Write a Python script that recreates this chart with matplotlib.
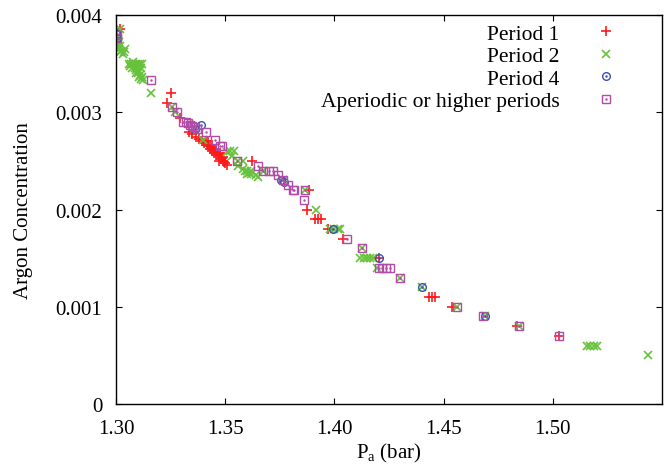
import matplotlib
matplotlib.use('Agg')
import matplotlib.pyplot as plt

plt.rcParams['font.family'] = ['Liberation Serif', 'DejaVu Serif']
plt.rcParams['mathtext.fontset'] = 'custom'
plt.rcParams['mathtext.rm'] = 'Liberation Serif'
plt.rcParams['mathtext.it'] = 'Liberation Serif:italic'

# Period 1 points (red +)
p1_x = [1.3017, 1.3250, 1.3232, 1.3293,
        1.3335, 1.3350, 1.3365, 1.3380, 1.3395, 1.3405, 1.3415, 1.3425, 1.3430, 1.3440,
        1.3450, 1.3460, 1.3470, 1.3480, 1.3490, 1.3500, 1.3507, 1.3440, 1.3460, 1.3475,
        1.3490, 1.3420, 1.3470, 1.3445, 1.3455, 1.3465, 1.3485, 1.3495, 1.3410, 1.3435,
        1.3621, 1.3884, 1.3873, 1.3912, 1.3926, 1.3940, 1.3972, 1.4039, 1.4204,
        1.4432, 1.4446, 1.4460, 1.4540, 1.4835, 1.5030]
p1_y = [0.00386, 0.0032, 0.0031, 0.00294,
        0.0028, 0.00278, 0.00275, 0.00272, 0.0027, 0.00268, 0.00266, 0.00265, 0.00262, 0.0026,
        0.00258, 0.00256, 0.00255, 0.00252, 0.0025, 0.00248, 0.00246, 0.00264, 0.0026, 0.00258,
        0.00254, 0.0027, 0.0025, 0.00262, 0.0026, 0.00257, 0.00253, 0.00249, 0.0027, 0.00266,
        0.0025, 0.0022, 0.0020, 0.0019, 0.0019, 0.0019, 0.0018, 0.0017, 0.0015,
        0.0011, 0.0011, 0.0011, 0.0010, 0.0008, 0.0007]

# Period 2 points (green x)
p2_x = [1.3017, 1.3005, 1.3010, 1.3015, 1.3020, 1.3030, 1.3040, 1.3002,
        1.3008, 1.3012, 1.3025, 1.3035, 1.3018,
        1.3060, 1.3070, 1.3080, 1.3090, 1.3100, 1.3110, 1.3085, 1.3095, 1.3105, 1.3100,
        1.3110, 1.3120, 1.3124, 1.3090,
        1.3065, 1.3075, 1.3115, 1.3092, 1.3105, 1.3115, 1.3080, 1.3118, 1.3098,
        1.3162, 1.3255, 1.3270, 1.3400, 1.3507,
        1.3520, 1.3540, 1.3530, 1.3560, 1.3583,
        1.3560, 1.3580, 1.3600, 1.3610, 1.3620, 1.3640, 1.3600, 1.3620, 1.3650, 1.3590,
        1.3674, 1.3766, 1.3865, 1.3916, 1.3980, 1.4000, 1.4015, 1.4026, 1.4125,
        1.4117, 1.4135, 1.4150, 1.4165, 1.4178, 1.4196, 1.4300, 1.4400, 1.4563,
        1.4690, 1.4847, 1.5158, 1.5172, 1.5187, 1.5201, 1.5437]
p2_y = [0.00386, 0.00372, 0.00368, 0.00365, 0.00362, 0.0036, 0.00365, 0.00375,
        0.0037, 0.00372, 0.00363, 0.00362, 0.00368,
        0.0035, 0.0035, 0.0035, 0.0035, 0.0035, 0.0035, 0.00345, 0.00345, 0.00342, 0.0034,
        0.00338, 0.00336, 0.00333, 0.0034,
        0.00348, 0.00346, 0.00345, 0.00343, 0.00336, 0.00334, 0.00352, 0.0035, 0.00347,
        0.0032, 0.00305, 0.0030, 0.00271, 0.00259,
        0.0026, 0.0026, 0.00255, 0.0025, 0.0025,
        0.00245, 0.00242, 0.0024, 0.00238, 0.00236, 0.00235, 0.00236, 0.0024, 0.00233, 0.0024,
        0.0024, 0.0023, 0.0022, 0.0020, 0.0018, 0.0018, 0.0018, 0.0018, 0.0016,
        0.0015, 0.0015, 0.0015, 0.0015, 0.0015, 0.0014, 0.0013, 0.0012, 0.0010,
        0.0009, 0.0008, 0.0006, 0.0006, 0.0006, 0.0006, 0.0005]

# Period 4 points (blue circle)
p4_x = [1.3006, 1.3006, 1.3388, 1.3360, 1.3755, 1.3770, 1.3992, 1.4204, 1.4400, 1.4690]
p4_y = [0.00376, 0.0038, 0.00287, 0.00283, 0.0023, 0.00228, 0.0018, 0.0015, 0.0012, 0.0009]

# Aperiodic or higher periods (purple square)
ap_x = [1.3006, 1.3006, 1.3162, 1.3255, 1.3278,
        1.3308, 1.3320, 1.3330, 1.3340, 1.3350, 1.3360, 1.3369,
        1.3412, 1.3453, 1.3476, 1.3484, 1.3555,
        1.3652, 1.3674, 1.3700, 1.3720, 1.3743, 1.3766, 1.3789, 1.3815,
        1.3812, 1.3865, 1.3861, 1.4059, 1.4125,
        1.4206, 1.4220, 1.4235, 1.4255, 1.4300, 1.4563, 1.4679, 1.4847, 1.5030]
ap_y = [0.00376, 0.00379, 0.00333, 0.00305, 0.0030,
        0.0029, 0.0029, 0.00289, 0.00287, 0.00286, 0.00285, 0.00283,
        0.0028, 0.00271, 0.00265, 0.00265, 0.0025,
        0.00245, 0.0024, 0.0024, 0.0024, 0.00235, 0.0023, 0.00225, 0.0022,
        0.0022, 0.0022, 0.0021, 0.0017, 0.0016,
        0.0014, 0.0014, 0.0014, 0.0014, 0.0013, 0.0010, 0.0009, 0.0008, 0.0007]

x_ticks = [1.30, 1.35, 1.40, 1.45, 1.50]
x_tick_labels = ['1.30', '1.35', '1.40', '1.45', '1.50']
y_ticks = [0, 0.001, 0.002, 0.003, 0.004]
y_tick_labels = ['0', '0.001', '0.002', '0.003', '0.004']

red = '#ff1a1a'
green = '#66c23a'
blue = '#3a4fb0'
purple = '#b04ca8'

fig = plt.figure(figsize=(6.71, 4.77), dpi=100)
ax = fig.add_axes([0.1729, 0.1509, 0.8137, 0.8156])

h1, = ax.plot(p1_x, p1_y, linestyle='none', marker='+', ms=7, mew=1.2, color=red)
h2, = ax.plot(p2_x, p2_y, linestyle='none', marker='x', ms=5.5, mew=1.2, color=green)
h4, = ax.plot(p4_x, p4_y, linestyle='none', marker='o', ms=5.5, mew=1.0, mfc='none', color=blue)
h4d, = ax.plot(p4_x, p4_y, linestyle='none', marker='.', ms=1.5, color=blue)
ha, = ax.plot(ap_x, ap_y, linestyle='none', marker='s', ms=5.5, mew=1.0, mfc='none', color=purple)
had, = ax.plot(ap_x, ap_y, linestyle='none', marker='.', ms=1.5, color=purple)

ax.set_xlim(1.30, 1.55)
ax.set_ylim(0, 0.004)
ax.set_xticks(x_ticks)
ax.set_xticklabels(x_tick_labels)
ax.set_yticks(y_ticks)
ax.set_yticklabels(y_tick_labels)
ax.tick_params(direction='in', length=4, width=0.8, top=True, right=True, labelsize=15)
ax.tick_params(axis='x', pad=11)
ax.tick_params(axis='y', pad=10)
for s in ax.spines.values():
    s.set_linewidth(1.0)

ax.set_xlabel(r'P$_\mathrm{a}$ (bar)', fontsize=15, labelpad=2)
ax.set_ylabel('Argon Concentration', fontsize=15, labelpad=16)

ax.legend([h1, h2, (h4, h4d), (ha, had)],
          ['Period 1', 'Period 2', 'Period 4', 'Aperiodic or higher periods'],
          loc='upper right', bbox_to_anchor=(0.9366, 0.977), frameon=False,
          markerfirst=False, fontsize=15.5, borderpad=0, borderaxespad=0,
          handlelength=2.0, handletextpad=1.15, labelspacing=0.11)

plt.savefig('out.png', dpi=100)
